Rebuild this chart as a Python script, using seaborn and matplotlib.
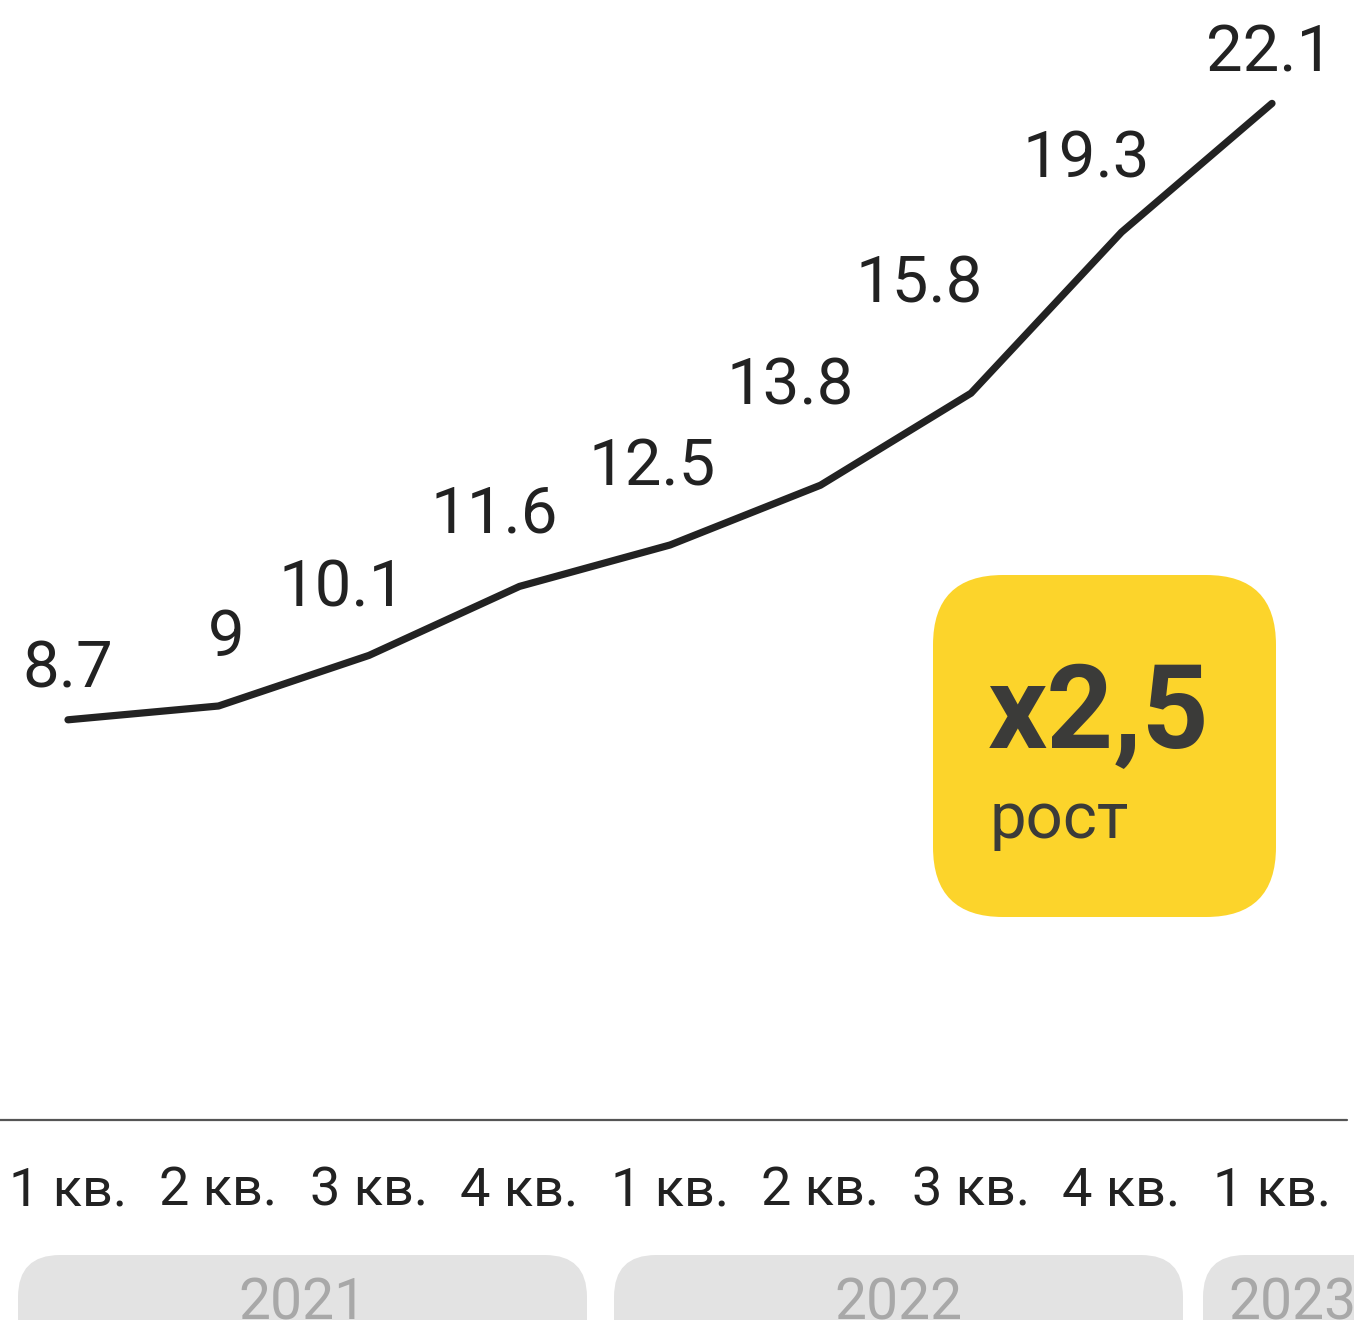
import matplotlib
matplotlib.use("Agg")
import matplotlib.pyplot as plt
from matplotlib.patches import FancyBboxPatch
import seaborn as sns
import pandas as pd

# ---- data ----
quarters = ["1 кв.", "2 кв.", "3 кв.", "4 кв.", "1 кв.", "2 кв.", "3 кв.", "4 кв.", "1 кв."]
values = [8.7, 9.0, 10.1, 11.6, 12.5, 13.8, 15.8, 19.3, 22.1]
value_labels = ["8.7", "9", "10.1", "11.6", "12.5", "13.8", "15.8", "19.3", "22.1"]
years = ["2021", "2022", "2023"]
badge_value = "x2,5"
badge_text = "рост"

# ---- layout (pixels) ----
label_dx = [0, 8, -27, -25, -18, -30, -52, -35, -2]
label_dy = [32, 50, 49, 54, 59, 81, 91, 55, 32]
TEXT_WEIGHT = "normal"

W, H = 1354, 1320
sns.set_theme(style="white")
plt.rcParams['font.family'] = ['Roboto', 'DejaVu Sans']

fig = plt.figure(figsize=(W / 100, H / 100), dpi=100)
ax = fig.add_axes([0, 0, 1, 1])
ax.set_axis_off()

n = len(values)
df = pd.DataFrame({"idx": list(range(n)), "value": values})
sns.lineplot(data=df, x="idx", y="value", ax=ax, color="#222222", linewidth=5.2,
             solid_capstyle="round", solid_joinstyle="round")

# scales: point 0 at px 68, point 8 at px 1272; y=0 at px 1120 from top, 46 px per unit
xpp = (8 - 0) / (1272 - 68)
ax.set_xlim(0 - 68 * xpp, 8 + (W - 1272) * xpp)
ypp = 1 / 46.0
ax.set_ylim(-(H - 1120) * ypp, 1120 * ypp)

# value labels
for i, (v, lab) in enumerate(zip(values, value_labels)):
    ax.annotate(lab, (i, v), xytext=(label_dx[i], label_dy[i]), textcoords="offset pixels",
                ha="center", va="baseline", fontsize=47, fontweight=TEXT_WEIGHT, color="#222222")

# baseline axis
ax.axhline(0, xmin=0, xmax=1347 / W, color="#555555", linewidth=1.6)

# quarter tick labels
for i, q in enumerate(quarters):
    ax.text(i, (H - 1205) / H, q, transform=ax.get_xaxis_transform(), ha="center",
            va="baseline", fontsize=39, fontweight=TEXT_WEIGHT, color="#222222")

# overlay in pixel coordinates for decorations
ov = fig.add_axes([0, 0, 1, 1], zorder=-1)
ov.set_xlim(0, W)
ov.set_ylim(H, 0)
ov.set_axis_off()
ov.patch.set_alpha(0)

pill_x = [18, 614, 1203]
pill_w = [569, 569, 569]
year_cx = [302, 898, 1292]
for x0, w, cx, yr in zip(pill_x, pill_w, year_cx, years):
    ov.add_patch(FancyBboxPatch((x0, 1255), w, 140, boxstyle="round,pad=0,rounding_size=42",
                                facecolor="#e3e3e3", edgecolor="none"))
    ov.text(cx, 1276, yr, ha="center", va="top",
            fontsize=41, fontweight=TEXT_WEIGHT, color="#a8a8a8")

# yellow badge
ov2 = fig.add_axes([0, 0, 1, 1], zorder=5)
ov2.set_xlim(0, W)
ov2.set_ylim(H, 0)
ov2.set_axis_off()
ov2.patch.set_alpha(0)
ov2.add_patch(FancyBboxPatch((933, 575), 343, 342, boxstyle="round,pad=0,rounding_size=70",
                             facecolor="#fcd42b", edgecolor="none"))
ov2.text(988, 748, badge_value, ha="left", va="baseline", fontsize=84, fontweight="bold",
         color="#3b3b39")
ov2.text(990, 838, badge_text, ha="left", va="baseline", fontsize=47, fontweight="normal",
         color="#3b3b39")

fig.savefig("out.png", dpi=100)
